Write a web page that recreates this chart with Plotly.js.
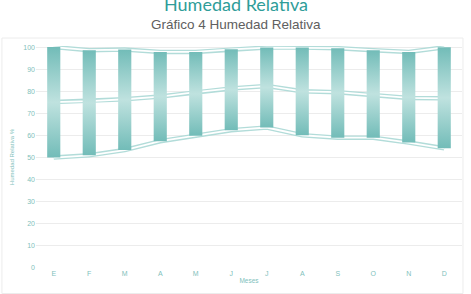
<!DOCTYPE html>
<html>
<head>
<meta charset="utf-8">
<script src="https://cdn.plot.ly/plotly-3.0.1.min.js"></script>
<style>html,body{margin:0;padding:0;background:#fff;}#chart{width:471px;height:294px;}</style>
</head>
<body>
<div id="chart"></div>
<script>
const months = ['E','F','M','A','M','J','J','A','S','O','N','D'];
const maxHum = [100, 98.6, 98.9, 97.8, 97.8, 99, 99.8, 99.8, 99.5, 98.6, 97.8, 99.9];
const meanHum = [75.1, 75.5, 76.4, 77.6, 79.6, 81.3, 82.4, 80.0, 79.6, 78.4, 77.0, 76.8];
const minHum = [50.0, 51.0, 53.4, 57.4, 59.9, 62.4, 63.6, 60.1, 59.0, 59.0, 56.8, 54.2];

const half = 0.185;
const idx = months.map((m, i) => i);

const traces = [];
function lineTrace(vals) {
  traces.push({x: idx, y: vals, type: 'scatter', mode: 'lines', hoverinfo: 'skip',
    line: {color: '#b2dcd9', width: 4.5}, showlegend: false});
  traces.push({x: idx, y: vals, type: 'scatter', mode: 'lines', hoverinfo: 'skip',
    line: {color: '#ffffff', width: 1.8}, showlegend: false});
}
lineTrace(maxHum);
lineTrace(meanHum);
lineTrace(minHum);

idx.forEach(i => {
  traces.push({
    x: [i - half, i + half, i + half, i - half, i - half],
    y: [minHum[i], minHum[i], maxHum[i], maxHum[i], minHum[i]],
    type: 'scatter', mode: 'lines', fill: 'toself', line: {width: 0},
    fillgradient: {type: 'vertical', colorscale: [[0, '#72bcb8'], [0.5, '#bfe2df'], [1, '#72bcb8']]},
    showlegend: false, hoverinfo: 'skip'
  });
});

const layout = {
  width: 471, height: 294,
  margin: {l: 36, r: 9, t: 46, b: 26},
  paper_bgcolor: '#fff', plot_bgcolor: '#fff',
  showlegend: false,
  xaxis: {
    range: [-0.5, 11.5], tickvals: idx, ticktext: months,
    showgrid: false, zeroline: false, showline: false, ticks: '',
    tickfont: {family: 'Liberation Sans, Arial, sans-serif', size: 7, color: '#7fbfbc'},
    title: {text: 'Meses', font: {family: 'Liberation Sans, Arial, sans-serif', size: 6.5, color: '#7fbfbc'}, standoff: 2}
  },
  yaxis: {
    range: [0, 100.5], tickvals: [0,10,20,30,40,50,60,70,80,90,100],
    showgrid: true, gridcolor: '#ececec', gridwidth: 1, zeroline: false, showline: false, ticks: '',
    tickfont: {family: 'Liberation Sans, Arial, sans-serif', size: 7, color: '#7fbfbc'},
    title: {text: 'Humedad Relativa %', font: {family: 'Liberation Sans, Arial, sans-serif', size: 6, color: '#7fbfbc'}, standoff: 8}
  },
  annotations: [
    {text: 'Humedad Relativa', xref: 'paper', yref: 'paper', x: 0.469, y: 1.19, xanchor: 'center', yanchor: 'middle',
     showarrow: false, font: {family: 'Lato, sans-serif', size: 18, color: '#2f9d99'}},
    {text: 'Gráfico 4 Humedad Relativa', xref: 'paper', yref: 'paper', x: 0.469, y: 1.099, xanchor: 'center', yanchor: 'middle',
     showarrow: false, font: {family: 'Liberation Sans, Arial, sans-serif', size: 13.5, color: '#606060'}}
  ],
  shapes: [
    {type: 'rect', xref: 'paper', yref: 'paper', x0: -0.08, x1: 1.0023, y0: -0.115, y1: 1.036,
     line: {color: '#ececec', width: 1}, fillcolor: 'rgba(0,0,0,0)', layer: 'below'}
  ]
};

Plotly.newPlot('chart', traces, layout, {displayModeBar: false, staticPlot: true});
</script>
</body>
</html>
